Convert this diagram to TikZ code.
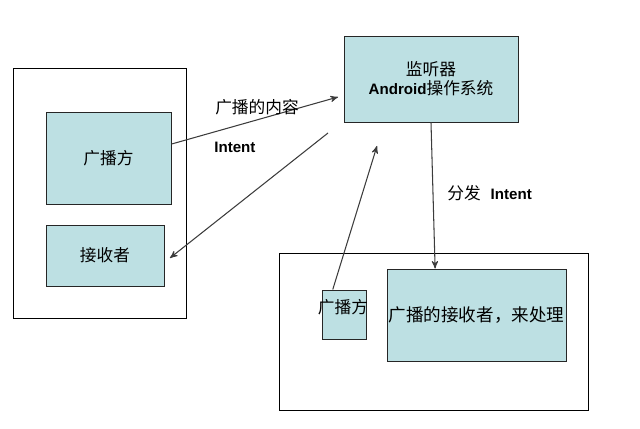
\documentclass[tikz,border=0pt]{standalone}
\usepackage{fontspec}
\setmainfont{Liberation Sans}
\newfontfamily\cjk{Noto Sans CJK SC}
\usetikzlibrary{calc}
\usetikzlibrary{arrows}
\definecolor{boxfill}{RGB}{189,224,227}
\definecolor{arrowgray}{RGB}{60,60,60}
\newcommand{\en}[1]{{\rmfamily\fontsize{8.6}{10.8}\selectfont\bfseries #1}}

\begin{document}
\begin{tikzpicture}[x=0.02cm,y=-0.02cm,
 panel/.style={draw=black, line width=0.5pt, inner sep=0pt},
 box/.style={draw=black!85, fill=boxfill, line width=0.55pt, inner sep=0pt, align=center},
 arr/.style={arrowgray, line width=0.6pt, ->, >=stealth'},
 every node/.style={font=\cjk\fontsize{9.5}{10.8}\selectfont}]
\useasboundingbox (0,0) rectangle (640,429);
% left side
\node[panel, minimum width=3.46cm, minimum height=5cm] (outerL) at (99.5,193) {};
\node[box, minimum width=2.5cm, minimum height=1.84cm] (sender) at (108.5,158) {广播方};
\node[box, minimum width=2.36cm, minimum height=1.22cm] (receiver) at (105,255.5) {接收者};
% system
\node[box, minimum width=3.48cm, minimum height=1.72cm] (monitor) at (431,79) {监听器\\\en{Android}操作系统};
% right side
\node[panel, minimum width=6.18cm, minimum height=3.14cm] (outerR) at (433.5,331.5) {};
\node[box, minimum width=0.88cm, minimum height=0.98cm] (sender2) at (344,314.5) {};
\node (sender2txt) at (343,307) {广播方};
\node[box, minimum width=3.58cm, minimum height=1.84cm, font=\cjk\fontsize{10}{12}\selectfont] (handler) at (476.5,315) {广播的接收者，来处理};
% free ends
\coordinate (tipA) at (338,97);
\coordinate (startB) at (328,133);
\coordinate (tipB) at (170,258);
\coordinate (tipC) at (377,146);
% connectors
\draw[arr] ($(sender.north east)!0.35!(sender.south east)$) -- (tipA);
\draw[arr] (startB) -- (tipB);
\draw[arr] ($(sender2.north west)!0.25!(sender2.north east)$) -- (tipC);
\draw[arr] (monitor.south) -- ($(handler.north west)!0.27!(handler.north east)$);
% labels
\node (content) at (257,107) {广播的内容};
\node[anchor=west, inner sep=0pt] (intent) at (214,147) {\en{Intent}};
\node[anchor=west, inner sep=0pt] (dispatch) at (447,193) {分发\hspace{0.6em}\en{Intent}};
\end{tikzpicture}
\end{document}
